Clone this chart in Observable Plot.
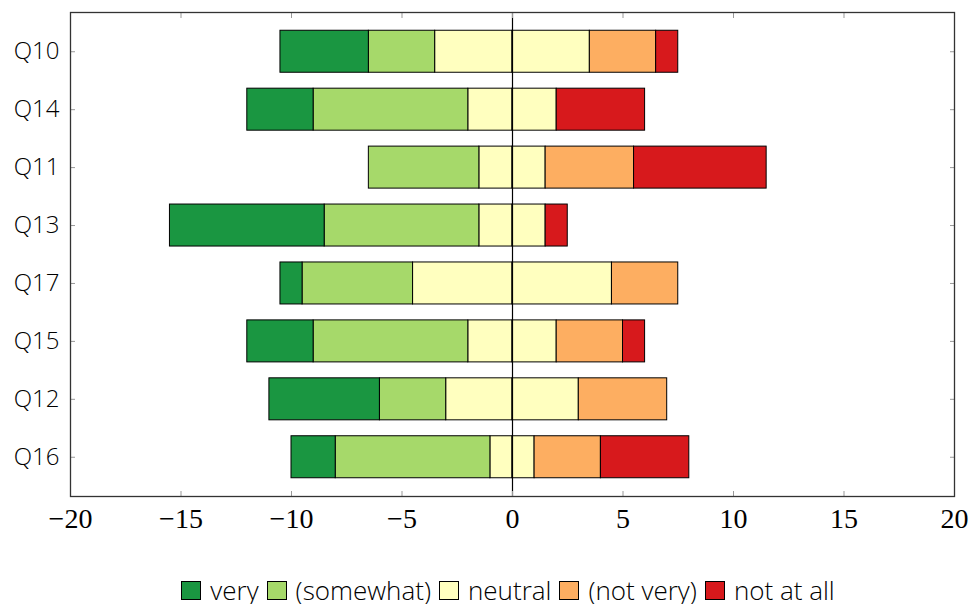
<!DOCTYPE html>
<html>
<head>
<meta charset="utf-8">
<script src="https://cdn.jsdelivr.net/npm/d3@7"></script>
<script src="https://cdn.jsdelivr.net/npm/@observablehq/plot@0.6"></script>
<style>
  body { margin: 0; background: #fff; }
  #legend { display: flex; justify-content: center; align-items: center; margin-top: 32px;
    padding-left: 44px; box-sizing: border-box; width: 972px;
    font-family: "Open Sans", sans-serif; font-weight: 300; font-size: 26px; color: #000; line-height: 27px; }
  #legend .item { display: flex; align-items: center; margin: 0 4px; }
  #legend .sw { width: 18px; height: 17px; border: 1px solid #000; margin-right: 9px; }
</style>
</head>
<body>
<div id="chart"></div>
<div id="legend"></div>
<script>
const questions = ["Q10", "Q14", "Q11", "Q13", "Q17", "Q15", "Q12", "Q16"];
const categories = ["very", "(somewhat)", "neutral", "(not very)", "not at all"];
const colors = ["#1a9641", "#a6d96a", "#ffffbf", "#fdae61", "#d7191c"];
const very      = [4, 3, 0, 7, 1, 3, 5, 2];
const somewhat  = [3, 7, 5, 7, 5, 7, 3, 7];
const neutral   = [7, 4, 3, 3, 9, 4, 6, 2];
const notVery   = [3, 0, 4, 0, 3, 3, 4, 3];
const notAtAll  = [1, 4, 6, 1, 0, 1, 0, 4];
const xTicks = [-20, -15, -10, -5, 0, 5, 10, 15, 20];

// negative side (stacked leftwards from 0): neutral half, somewhat, very
// positive side: neutral half, not very, not at all
const rows = [];
questions.forEach((q, i) => {
  rows.push({q, cat: "neutral", v: -neutral[i] / 2});
  rows.push({q, cat: "(somewhat)", v: -somewhat[i]});
  rows.push({q, cat: "very", v: -very[i]});
  rows.push({q, cat: "neutral", v: neutral[i] / 2});
  rows.push({q, cat: "(not very)", v: notVery[i]});
  rows.push({q, cat: "not at all", v: notAtAll[i]});
});
const data = rows.filter(d => d.v !== 0);

const sans = "'Open Sans', sans-serif";
const serif = "'Liberation Serif', 'DejaVu Serif', serif";

const chart = Plot.plot({
  width: 972,
  height: 545,
  marginLeft: 70,
  marginRight: 18,
  marginTop: 12,
  marginBottom: 49,
  x: {domain: [-20, 20], ticks: xTicks},
  y: {domain: questions, paddingInner: 0.275, paddingOuter: 0.315, round: false},
  color: {domain: categories, range: colors},
  marks: [
    Plot.barX(data, Plot.stackX({x: "v", y: "q", fill: "cat", stroke: "#000", strokeWidth: 1})),
    Plot.ruleX([0], {stroke: "#000", strokeWidth: 1.2}),
    Plot.axisX({anchor: "bottom", ticks: xTicks, tickSize: 0, tickPadding: 12, label: null,
      fontSize: 28, fontFamily: serif, fill: "#000"}),
    Plot.axisX({anchor: "bottom", ticks: xTicks, tickSize: -5, text: null, stroke: "#999", label: null}),
    Plot.axisX({anchor: "top", ticks: xTicks, tickSize: -5, text: null, stroke: "#999", label: null}),
    Plot.axisY({anchor: "left", tickSize: 0, tickPadding: 11, label: null,
      fontSize: 24, fontFamily: sans, fontWeight: 300, fill: "#000"}),
    Plot.axisY({anchor: "left", tickSize: -5, text: null, stroke: "#999", label: null}),
    Plot.axisY({anchor: "right", tickSize: -5, text: null, stroke: "#999", label: null}),
    Plot.frame({stroke: "#333", strokeWidth: 1.3})
  ]
});
document.getElementById("chart").appendChild(chart);

const legend = document.getElementById("legend");
categories.forEach((c, i) => {
  const item = document.createElement("div");
  item.className = "item";
  const sw = document.createElement("div");
  sw.className = "sw";
  sw.style.background = colors[i];
  const t = document.createElement("span");
  t.textContent = c;
  item.appendChild(sw);
  item.appendChild(t);
  legend.appendChild(item);
});
</script>
</body>
</html>
